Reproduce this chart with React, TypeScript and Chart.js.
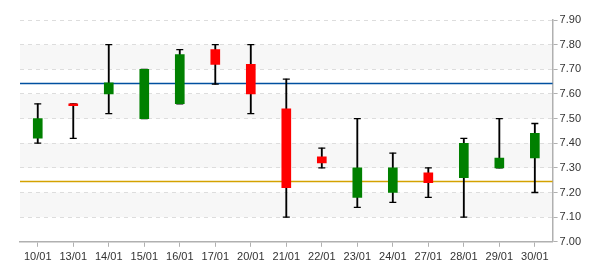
import React, { useEffect, useRef } from "react";
import { Chart, registerables } from "chart.js";

Chart.register(...registerables);

const dates = ["10/01","13/01","14/01","15/01","16/01","17/01","20/01","21/01","22/01","23/01","24/01","27/01","28/01","29/01","30/01"];
const opens = [7.42, 7.56, 7.60, 7.50, 7.56, 7.78, 7.72, 7.54, 7.345, 7.18, 7.20, 7.28, 7.26, 7.30, 7.34];
const closes = [7.50, 7.552, 7.645, 7.70, 7.76, 7.72, 7.60, 7.22, 7.32, 7.30, 7.30, 7.24, 7.40, 7.34, 7.44];
const highs = [7.56, 7.56, 7.80, 7.70, 7.78, 7.80, 7.80, 7.66, 7.38, 7.50, 7.36, 7.30, 7.42, 7.50, 7.48];
const lows = [7.40, 7.42, 7.52, 7.50, 7.56, 7.64, 7.52, 7.10, 7.30, 7.14, 7.16, 7.18, 7.10, 7.30, 7.20];
const refLines = [
  { value: 7.645, color: "#0050a0" },
  { value: 7.245, color: "#d4a200" },
];
const yMin = 7.0;
const yMax = 7.9;
const yStep = 0.1;

const bgPlugin = {
  id: "bands",
  beforeDraw(chart: any) {
    const { ctx, chartArea, scales } = chart;
    const y = scales.y;
    ctx.save();
    ctx.fillStyle = "#f7f7f7";
    for (let v = 7.1; v < yMax - 0.01; v += 0.2) {
      const top = y.getPixelForValue(v + yStep);
      const bot = y.getPixelForValue(v);
      ctx.fillRect(chartArea.left, top, chartArea.right - chartArea.left, bot - top);
    }
    ctx.restore();
  },
  beforeDatasetsDraw(chart: any) {
    const { ctx, chartArea, scales } = chart;
    const y = scales.y;
    ctx.save();
    ctx.lineWidth = 1.5;
    for (const l of refLines) {
      const py = Math.round(y.getPixelForValue(l.value)) + 0.5;
      ctx.strokeStyle = l.color;
      ctx.beginPath();
      ctx.moveTo(chartArea.left, py);
      ctx.lineTo(chartArea.right, py);
      ctx.stroke();
    }
    ctx.restore();
  },
};

export default function App() {
  const ref = useRef<HTMLCanvasElement>(null);
  useEffect(() => {
    document.body.style.margin = "0";
    const colors = opens.map((o, i) => (closes[i] >= o ? "#008000" : "#ff0000"));
    const chart = new Chart(ref.current!, {
      type: "bar",
      data: {
        labels: dates,
        datasets: [
          {
            type: "bar",
            data: opens.map((o, i) => [o, closes[i]]) as any,
            backgroundColor: colors,
            barThickness: 9,
            grouped: false,
            order: 0,
          } as any,
          {
            type: "bar",
            data: lows.map((l, i) => [l, highs[i]]) as any,
            backgroundColor: "#000000",
            barThickness: 1.2,
            grouped: false,
            order: 1,
          } as any,
          {
            type: "line",
            data: highs,
            showLine: false,
            pointStyle: "line",
            pointRadius: 3.5,
            borderColor: "#000000",
            pointBorderWidth: 1.3,
            order: 2,
          } as any,
          {
            type: "line",
            data: lows,
            showLine: false,
            pointStyle: "line",
            pointRadius: 3.5,
            borderColor: "#000000",
            pointBorderWidth: 1.3,
            order: 2,
          } as any,
        ],
      },
      options: {
        animation: false,
        responsive: false,
        maintainAspectRatio: false,
        layout: { padding: { left: 20, right: 17, top: 20, bottom: 2 } },
        plugins: { legend: { display: false }, tooltip: { enabled: false } },
        scales: {
          x: {
            offset: true,
            grid: { drawOnChartArea: false, offset: false, tickLength: 5, tickColor: "#b0b0b0" },
            border: { color: "#b0b0b0", width: 1.5 },
            ticks: { color: "#333", font: { family: "Liberation Sans, Arial", size: 11 }, maxRotation: 0, autoSkip: false, padding: 4 },
          },
          y: {
            position: "right",
            min: yMin,
            max: yMax,
            grid: { color: "#dddddd", tickColor: "#b0b0b0", tickLength: 5, tickBorderDash: [] } as any,
            border: { color: "#b0b0b0", width: 1.5, dash: [4, 4] },
            ticks: {
              stepSize: yStep,
              color: "#333",
              padding: 2,
              font: { family: "Liberation Sans, Arial", size: 11 },
              callback: (v: any) => Number(v).toFixed(2),
            },
          },
        },
      },
      plugins: [bgPlugin],
    });
    return () => chart.destroy();
  }, []);
  return (
    <div style={{ width: 600, height: 270 }}>
      <canvas ref={ref} width={600} height={270} style={{ display: "block" }} />
    </div>
  );
}
